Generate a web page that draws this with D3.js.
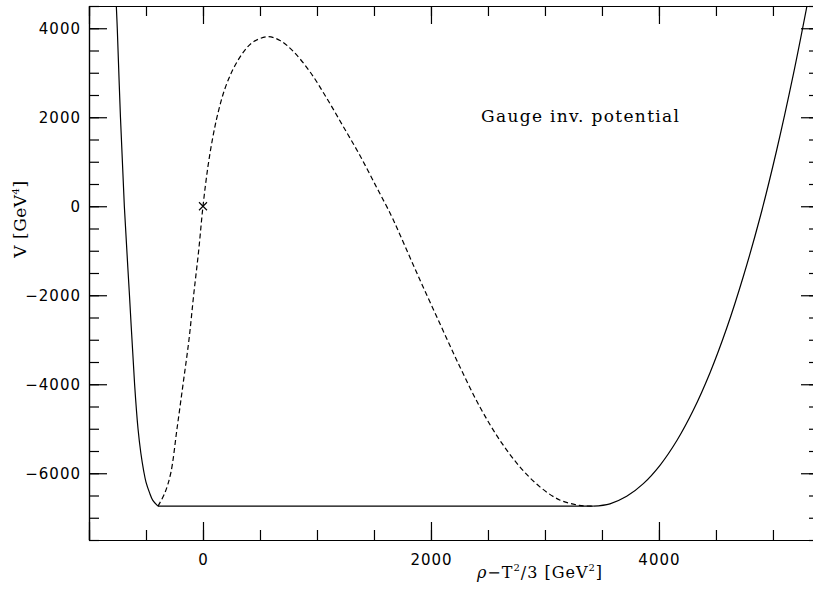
<!DOCTYPE html>
<html>
<head>
<meta charset="utf-8">
<script src="https://cdn.jsdelivr.net/npm/d3@7"></script>
<style>
    html, body { margin: 0; background: #fff; overflow: hidden; }
    svg { display: block; }
    .tick text { font-family: "DejaVu Sans", sans-serif; font-size: 15px; letter-spacing: 1px; fill: #000; }
    .axis path, .axis line { stroke: #000; stroke-width: 1.2; }
</style>
</head>
<body>
<div id="chart"></div>
<script>
// curve: rho - T^2/3 [GeV^2] vs V [GeV^4]
const rhoLeft = [-762, -752, -724, -690, -645, -600, -570, -545, -520, -500, -470, -440, -395];
const vLeft   = [4600, 4000, 2000, 0, -2000, -4000, -5000, -5550, -5950, -6200, -6430, -6610, -6740];

const rhoDashed = [-395, -336, -283, -228, -175, -123, -82, -38, 0, 44, 88, 132, 190, 263, 351, 439, 570,
    680, 792, 939, 1085, 1231, 1377, 1524, 1650, 1728, 1890, 2076, 2252, 2427, 2602, 2778, 2953, 3129, 3300, 3424];
const vDashed = [-6740, -6450, -6000, -5000, -4000, -3000, -2000, -1000, 0, 900, 1575, 2100, 2625, 3075, 3450, 3690, 3810,
    3720, 3480, 3020, 2430, 1790, 1140, 420, -200, -640, -1580, -2625, -3600, -4500, -5250, -5850, -6300, -6600, -6720, -6740];

const rhoRight = [3424, 3570, 3717, 3863, 4009, 4156, 4302, 4448, 4594, 4740, 4886, 5032, 5178, 5300];
const vRight   = [-6740, -6687, -6519, -6234, -5822, -5271, -4581, -3741, -2743, -1579, -259, 1253, 2951, 4522];

const rhoFlat = [-395, 3424];
const vFlat = [-6740, -6740];

const markRho = [0], markV = [0];

const xMajor = [-1000, 0, 2000, 4000];
const xMajorShown = [0, 2000, 4000];
const yMajor = [-6000, -4000, -2000, 0, 2000, 4000];

const svg = { width: 813, height: 592, left: 89, right: 819, top: 6, bottom: 540 };

const x = d3.scaleLinear().domain([-1000, 5404]).range([svg.left, svg.right]);
const y = d3.scaleLinear().domain([-7500, 4500]).range([svg.bottom, svg.top]);

const chart = d3.select("#chart").append("svg")
    .attr("width", svg.width)
    .attr("height", svg.height);

chart.append("defs").append("clipPath").attr("id", "plot")
    .append("rect")
    .attr("x", svg.left).attr("y", svg.top)
    .attr("width", svg.right - svg.left).attr("height", svg.bottom - svg.top);

const xMinorVals = d3.range(-1000, 5401, 500);
const yMinorVals = d3.range(-7500, 4501, 500);

// bottom
chart.append("g").attr("class", "axis")
    .attr("transform", `translate(0,${svg.bottom})`)
    .call(d3.axisBottom(x).tickValues(xMinorVals).tickSize(-10).tickSizeOuter(0).tickFormat(""));
chart.append("g").attr("class", "axis")
    .attr("transform", `translate(0,${svg.bottom})`)
    .call(d3.axisBottom(x).tickValues(xMajor).tickSize(-18).tickSizeOuter(0).tickPadding(14)
        .tickFormat(d => xMajorShown.includes(d) ? d3.format("d")(d) : ""));
// top
chart.append("g").attr("class", "axis")
    .attr("transform", `translate(0,${svg.top})`)
    .call(d3.axisTop(x).tickValues(xMinorVals).tickSize(-10).tickSizeOuter(0).tickFormat(""));
chart.append("g").attr("class", "axis")
    .attr("transform", `translate(0,${svg.top})`)
    .call(d3.axisTop(x).tickValues(xMajor).tickSize(-18).tickSizeOuter(0).tickFormat(""));
// left
chart.append("g").attr("class", "axis")
    .attr("transform", `translate(${svg.left},0)`)
    .call(d3.axisLeft(y).tickValues(yMinorVals).tickSize(-10).tickSizeOuter(0).tickFormat(""));
chart.append("g").attr("class", "axis")
    .attr("transform", `translate(${svg.left},0)`)
    .call(d3.axisLeft(y).tickValues(yMajor).tickSize(-18).tickSizeOuter(0).tickPadding(8)
        .tickFormat(d => d < 0 ? "\u2212" + Math.abs(d) : String(d)));
// right
chart.append("g").attr("class", "axis")
    .attr("transform", `translate(${svg.right},0)`)
    .call(d3.axisRight(y).tickValues(yMinorVals).tickSize(-10).tickSizeOuter(0).tickFormat(""));
chart.append("g").attr("class", "axis")
    .attr("transform", `translate(${svg.right},0)`)
    .call(d3.axisRight(y).tickValues(yMajor).tickSize(-18).tickSizeOuter(0).tickFormat(""));

const line = d3.line()
    .x(d => x(d[0]))
    .y(d => y(d[1]))
    .curve(d3.curveCatmullRom.alpha(0.5));

const marks = chart.append("g").attr("clip-path", "url(#plot)");

const series = [
    { rho: rhoLeft, v: vLeft, dash: null },
    { rho: rhoFlat, v: vFlat, dash: null },
    { rho: rhoRight, v: vRight, dash: null },
    { rho: rhoDashed, v: vDashed, dash: "5,3" }
];

marks.selectAll("path.curve")
    .data(series)
    .join("path")
    .attr("class", "curve")
    .attr("d", s => line(d3.zip(s.rho, s.v)))
    .attr("fill", "none")
    .attr("stroke", "#000")
    .attr("stroke-width", 1.2)
    .attr("stroke-dasharray", s => s.dash);

// x marker
marks.selectAll("path.mark")
    .data(d3.zip(markRho, markV))
    .join("path")
    .attr("class", "mark")
    .attr("transform", d => `translate(${x(d[0])},${y(d[1])})`)
    .attr("d", "M-4,-4L4,4M-4,4L4,-4")
    .attr("stroke", "#000")
    .attr("stroke-width", 1.1);

// labels
chart.append("text")
    .attr("x", 481).attr("y", 122)
    .attr("font-family", "DejaVu Serif, serif")
    .attr("font-size", 17)
    .attr("textLength", 198)
    .attr("lengthAdjust", "spacing")
    .text("Gauge inv. potential");

const xl = chart.append("text")
    .attr("x", 540).attr("y", 578)
    .attr("text-anchor", "middle")
    .attr("font-family", "DejaVu Serif, serif")
    .attr("font-size", 16)
    .attr("letter-spacing", 1);
xl.append("tspan").attr("font-style", "italic").text("\u03c1");
xl.append("tspan").text("\u2212T");
xl.append("tspan").attr("dy", -7).attr("font-size", 10).text("2");
xl.append("tspan").attr("dy", 7).text("/3 [GeV");
xl.append("tspan").attr("dy", -7).attr("font-size", 10).text("2");
xl.append("tspan").attr("dy", 7).text("]");

const yl = chart.append("text")
    .attr("transform", "translate(26,219) rotate(-90)")
    .attr("text-anchor", "middle")
    .attr("font-family", "DejaVu Serif, serif")
    .attr("font-size", 17)
    .attr("letter-spacing", 0.5);
yl.append("tspan").text("V [GeV");
yl.append("tspan").attr("dy", -7).attr("font-size", 10).text("4");
yl.append("tspan").attr("dy", 7).text("]");
</script>
</body>
</html>
